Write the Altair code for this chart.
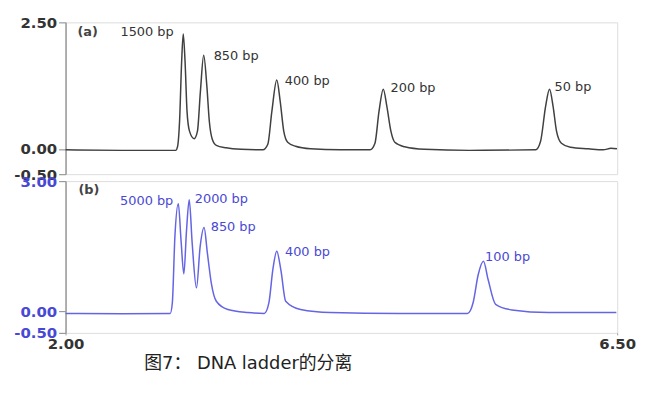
import altair as alt
import pandas as pd

# ---------------- data ----------------
# Panel (a): migration time vs signal
a_x = [2.000, 2.461, 2.898, 2.914, 2.930, 2.947, 2.960, 2.975, 2.991, 3.011,
       3.049, 3.076, 3.100, 3.127, 3.153, 3.173, 3.197, 3.230, 3.311, 3.432,
       3.610, 3.650, 3.683, 3.723, 3.751, 3.780, 3.812, 3.877, 3.998, 4.241,
       4.484, 4.524, 4.557, 4.592, 4.621, 4.654, 4.686, 4.767, 4.929, 5.293,
       5.835, 5.875, 5.916, 5.948, 5.977, 6.005, 6.045, 6.118, 6.264, 6.385,
       6.450, 6.498]
a_y = [-0.02, -0.03, -0.03, 0.05, 0.54, 1.72, 2.27, 1.72, 0.74, 0.35,
       0.20, 0.35, 1.13, 1.85, 1.23, 0.54, 0.19, 0.07, 0.02, -0.01,
       -0.02, 0.09, 0.74, 1.36, 0.94, 0.35, 0.13, 0.05, 0.00, -0.02,
       -0.02, 0.11, 0.74, 1.18, 0.84, 0.35, 0.13, 0.04, -0.01, -0.03,
       -0.02, 0.15, 0.84, 1.18, 0.84, 0.35, 0.11, 0.03, 0.00, -0.02,
       0.01, 0.00]

# Panel (b)
b_x = [2.000, 2.461, 2.854, 2.871, 2.892, 2.920, 2.942, 2.965, 2.987, 3.009,
       3.033, 3.068, 3.098, 3.130, 3.157, 3.189, 3.230, 3.324, 3.486, 3.621,
       3.659, 3.691, 3.723, 3.756, 3.796, 3.917, 4.160, 4.727, 5.279, 5.325,
       5.366, 5.409, 5.447, 5.508, 5.641, 5.940, 6.493]
b_y = [-0.05, -0.06, -0.05, 0.19, 1.72, 2.48, 1.64, 0.86, 1.87, 2.57,
       1.57, 0.54, 1.49, 1.93, 1.34, 0.65, 0.23, 0.04, -0.03, -0.05,
       0.20, 0.96, 1.38, 0.96, 0.23, 0.04, -0.03, -0.05, -0.05, 0.20,
       0.84, 1.15, 0.73, 0.16, 0.03, -0.03, -0.03]

# Peak annotations
a_labels = ["1500 bp", "850 bp", "400 bp", "200 bp", "50 bp"]
a_label_x = [2.882, 3.208, 3.788, 4.651, 5.989]
a_label_y = [2.30, 1.83, 1.35, 1.21, 1.23]
a_label_side = ["right", "left", "left", "left", "left"]

b_labels = ["5000 bp", "2000 bp", "850 bp", "400 bp", "100 bp"]
b_label_x = [2.879, 3.054, 3.184, 3.790, 5.422]
b_label_y = [2.54, 2.59, 1.94, 1.37, 1.26]
b_label_side = ["right", "left", "left", "left", "left"]

panel_tags = ["(a)", "(b)"]
tag_x = [2.097, 2.105]
tag_y = [2.30, 2.79]

x_domain = [2.0, 6.5]
a_domain = [-0.5, 2.5]
b_domain = [-0.5, 3.0]
a_ticks = [-0.5, 0.0, 2.5]
b_ticks = [-0.5, 0.0, 3.0]
x_ticks = [2.0, 6.5]
caption = "图7： DNA ladder的分离"

# ---------------- styling ----------------
GRAY_LINE = "#404040"
BLUE_LINE = "#6464e4"
BLUE_TEXT = "#4848d6"
DARK_TEXT = "#333333"
FRAME = "#9a9a9a"
FONT = "DejaVu Sans"
W, H = 556, 153
LABEL_EXPR = "replace(format(datum.value, '.2f'), '\u2212', '-')"


def panel(xs, ys, labels, lx, ly, side, tag, tx, ty, domain, ticks,
          line_color, text_color, show_x):
    trace = pd.DataFrame({"t": xs, "s": ys})
    ann = pd.DataFrame({"t": lx, "s": ly, "label": labels, "side": side})
    tagdf = pd.DataFrame({"t": [tx], "s": [ty], "label": [tag]})

    if show_x:
        x_axis = alt.Axis(values=x_ticks, labelExpr=LABEL_EXPR, title=None,
                          grid=False, labelFlush=False, tickSize=2,
                          labelPadding=2, labelFontSize=15, labelFont=FONT,
                          labelFontWeight="bold",
                          labelColor=DARK_TEXT, domain=False, tickColor=FRAME)
    else:
        x_axis = None
    x_enc = alt.X("t:Q", scale=alt.Scale(domain=x_domain, nice=False, zero=False),
                  axis=x_axis)
    y_enc = alt.Y("s:Q", scale=alt.Scale(domain=domain, nice=False, zero=False),
                  axis=alt.Axis(values=ticks, labelExpr=LABEL_EXPR, title=None,
                                grid=False, tickSize=7, labelPadding=2,
                                labelFontSize=15, labelFont=FONT,
                                labelFontWeight="bold",
                                labelColor=text_color, domainColor=FRAME,
                                domainWidth=1.5, tickColor=FRAME, tickWidth=1.2,
                                minExtent=50, maxExtent=50))

    line = alt.Chart(trace).mark_line(color=line_color, strokeWidth=1.5,
                                      interpolate="monotone").encode(x=x_enc, y=y_enc)
    left_txt = alt.Chart(ann).transform_filter("datum.side == 'left'").mark_text(
        align="left", baseline="middle", font=FONT, fontSize=13,
        color=text_color).encode(x="t:Q", y="s:Q", text="label:N")
    right_txt = alt.Chart(ann).transform_filter("datum.side == 'right'").mark_text(
        align="right", baseline="middle", font=FONT, fontSize=13,
        color=text_color).encode(x="t:Q", y="s:Q", text="label:N")
    tag_txt = alt.Chart(tagdf).mark_text(
        align="left", baseline="middle", font=FONT, fontSize=13,
        fontWeight="bold", color="#444444").encode(x="t:Q", y="s:Q", text="label:N")

    return alt.layer(line, left_txt, right_txt, tag_txt).properties(width=W, height=H)


top = panel(a_x, a_y, a_labels, a_label_x, a_label_y, a_label_side,
            panel_tags[0], tag_x[0], tag_y[0], a_domain, a_ticks,
            GRAY_LINE, DARK_TEXT, False)
bottom = panel(b_x, b_y, b_labels, b_label_x, b_label_y, b_label_side,
               panel_tags[1], tag_x[1], tag_y[1], b_domain, b_ticks,
               BLUE_LINE, BLUE_TEXT, True)

chart = alt.vconcat(top, bottom, spacing=7, bounds="flush").properties(
    title=alt.TitleParams(caption, orient="bottom", anchor="start", dx=132,
                          offset=3, fontSize=18, fontWeight="normal",
                          font="DejaVu Sans, Noto Sans CJK SC", color="#222222"),
    padding={"left": 5, "top": 5, "right": 5, "bottom": 5},
).configure_view(stroke=FRAME, strokeWidth=1.5).configure(background="white")

chart.save("out.html", embed_options={"renderer": "svg", "actions": False})
